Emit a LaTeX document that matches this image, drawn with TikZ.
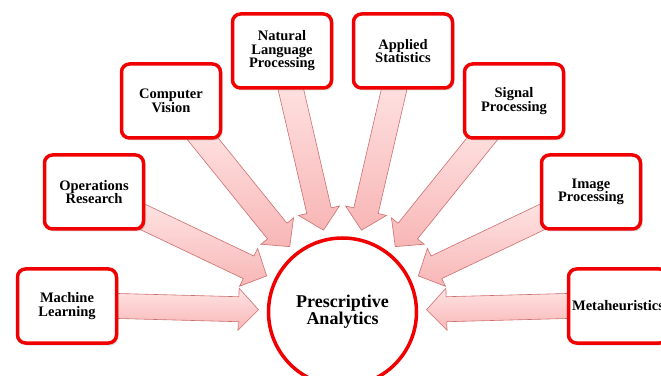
\documentclass[tikz,border=0pt]{standalone}
\usepackage{fontspec}
\setmainfont{Liberation Serif}
\usetikzlibrary{calc,shadows,backgrounds}
\definecolor{boxred}{RGB}{240,0,0}
\definecolor{arrowline}{RGB}{205,110,110}
\definecolor{arrowtop}{RGB}{255,228,228}
\definecolor{arrowbottom}{RGB}{248,182,182}

\begin{document}
\begin{tikzpicture}[
                x=1pt, y=1pt,
                field/.style={rectangle, rounded corners=8pt, draw=boxred, line width=3.5pt, fill=white, minimum width=99pt, minimum height=74pt, align=center, font=\fontsize{14.5}{13.5}\selectfont\bfseries, drop shadow={shadow xshift=2pt, shadow yshift=-2.5pt, opacity=0.25}},
                goal/.style={circle, draw=boxred, line width=3.5pt, fill=white, minimum size=148pt, align=center, font=\fontsize{18}{16}\selectfont\bfseries},
                flow/.style={draw=arrowline, line width=0.6pt, top color=arrowtop, bottom color=arrowbottom},
            ]
            \path[use as bounding box, clip] (0,0) rectangle (661,375);
            % --- target ---
            \node[goal] (pa) at (342.5, 63) {Prescriptive\\Analytics};
            % --- fields around it ---
            \node[field] (ml)  at (67, 69)   {Machine\\Learning};
            \node[field] (or)  at (94, 183)  {Operations\\Research};
            \node[field] (cv)  at (171, 274) {Computer\\Vision};
            \node[field] (nlp) at (282, 324) {Natural\\Language\\Processing};
            \node[field] (as)  at (403, 324) {Applied\\Statistics};
            \node[field] (sp)  at (514, 274) {Signal\\Processing};
            \node[field] (ip)  at (591, 183) {Image\\Processing};
            \node[field] (mh)  at (618, 69)  {Metaheuristics};
            % --- block arrows into the target ---
            \begin{scope}[on background layer]
            \foreach \b/\a in {ml/0, or/-27, cv/-50, nlp/-77, as/-103, sp/-130, ip/-153, mh/180} {
                \coordinate (t) at ($(pa.center)!84pt!(\b.\a)$);
                \coordinate (s) at ($(\b.\a)!-14pt!(t)$);
                \coordinate (h) at ($(t)!20pt!(s)$);
                \path[flow] ($(s)!12.5pt!90:(t)$) -- ($(h)!12.5pt!-90:(s)$) -- ($(h)!21pt!-90:(s)$) -- (t)
                    -- ($(h)!21pt!90:(s)$) -- ($(h)!12.5pt!90:(s)$) -- ($(s)!12.5pt!-90:(t)$) -- cycle;
            }
            \end{scope}
        \end{tikzpicture}
\end{document}
